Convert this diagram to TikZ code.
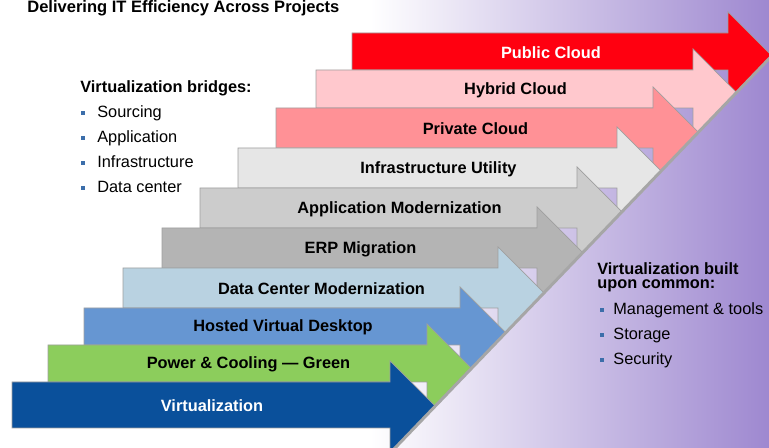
\documentclass[tikz,border=0pt]{standalone}
\usepackage{fontspec}
\setmainfont{Liberation Sans}
\usepackage{tikz}
\usepackage{xcolor}
\definecolor{backpurple}{RGB}{158, 136, 208}
\definecolor{pubred}{RGB}{255, 0, 16}
\definecolor{hybpink}{RGB}{255, 200, 205}
\definecolor{privsalmon}{RGB}{255, 145, 150}
\definecolor{infgray}{RGB}{230, 230, 230}
\definecolor{appgray}{RGB}{204, 204, 204}
\definecolor{erpgray}{RGB}{180, 180, 180}
\definecolor{dcmblue}{RGB}{185, 210, 225}
\definecolor{hvdblue}{RGB}{102, 150, 210}
\definecolor{pcgreen}{RGB}{140, 205, 92}
\definecolor{virtblue}{RGB}{10, 80, 155}
\definecolor{bulletblue}{RGB}{60, 110, 170}
\tikzstyle{stepbar}=[draw=gray!75, line width=0.4pt]
\tikzstyle{steplabel}=[font=\fontsize{9.3}{11}\selectfont\bfseries]
\tikzstyle{titletext}=[font=\fontsize{9.4}{11}\selectfont\bfseries, inner sep=0pt]
\tikzstyle{notehead}=[font=\fontsize{9.3}{11}\selectfont\bfseries, inner sep=0pt]
\tikzstyle{noteitem}=[font=\fontsize{9.3}{11}\selectfont, inner sep=0pt]
\tikzstyle{cutedge}=[draw=gray!70, line width=1.7pt]
\newcommand{\bulsq}[1]{{\color{bulletblue}\rule[1.9pt]{1.8pt}{1.8pt}}\hspace{#1}}

\begin{document}
\begin{tikzpicture}[x=0.02cm, y=-0.02cm]
    % Canvas and shaded backdrop
    \useasboundingbox (0,0) rectangle (769,448);
    \fill[white] (0,0) rectangle (769,448);
    \shade[left color=white, right color=backpurple] (370,0) rectangle (769,448);

    % Title
    \node[titletext, anchor=base west] (title) at (27,12.5) {Delivering IT Efficiency Across Projects};

    % Staircase of arrows, cut along the diagonal
    \begin{scope}
        \clip (-10,-10) -- (835,-10) -- (383.5,460) -- (-10,460) -- cycle;
        \foreach \xl/\xn/\yt/\yb/\col/\tc/\nm/\txt in {
            352/728/33/70/pubred/white/pubcloud/Public Cloud,
            316/693/70/108/hybpink/black/hybcloud/Hybrid Cloud,
            276/653/108/148/privsalmon/black/privcloud/Private Cloud,
            238/617/148/188/infgray/black/infutil/Infrastructure Utility,
            200/577/188/228/appgray/black/appmod/Application Modernization,
            162/537/228/268/erpgray/black/erpmig/ERP Migration,
            123/498/268/308/dcmblue/black/dcmod/Data Center Modernization,
            84/460/308/345/hvdblue/black/hvdesk/Hosted Virtual Desktop,
            48/427/345/382/pcgreen/black/powcool/Power \& Cooling --- Green,
            12/390/382/428/virtblue/white/virt/Virtualization} {
            \filldraw[stepbar, fill=\col] (\xl,\yt) -- (\xn,\yt) -- (\xn,\yt-21)
                -- (\xn+65,\yt+44) -- (\xn,\yt+109)
                -- (\xn,\yb) -- (\xl,\yb) -- cycle;
            \node[steplabel, text=\tc] (\nm) at ({(\xl+\xn)/2+11},{(\yt+\yb)/2+1}) {\txt};
        }
    \end{scope}

    % Diagonal edge
    \draw[cutedge] (383.5,460) -- (835,-10);

    % Left notes
    \node[notehead, anchor=base west] (bridges) at (80,93) {Virtualization bridges:};
    \node[noteitem, anchor=base west] (sourcing) at (81,118) {\bulsq{7.3pt}Sourcing};
    \node[noteitem, anchor=base west] (application) at (81,143) {\bulsq{7.3pt}Application};
    \node[noteitem, anchor=base west] (infra) at (81,168) {\bulsq{7.3pt}Infrastructure};
    \node[noteitem, anchor=base west] (datacenter) at (81,193) {\bulsq{7.3pt}Data center};

    % Right notes
    \node[notehead, anchor=base west] (builtA) at (597,275) {Virtualization built};
    \node[notehead, anchor=base west] (builtB) at (597,289) {upon common:};
    \node[noteitem, anchor=base west] (mgmt) at (600,315) {\bulsq{5.6pt}Management \& tools};
    \node[noteitem, anchor=base west] (storage) at (600,340) {\bulsq{5.6pt}Storage};
    \node[noteitem, anchor=base west] (security) at (600,365) {\bulsq{5.6pt}Security};

\end{tikzpicture}
\end{document}
